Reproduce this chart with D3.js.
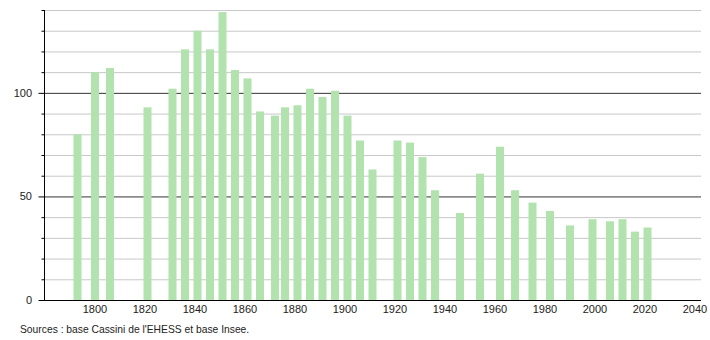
<!DOCTYPE html>
<html>
<head>
<meta charset="utf-8">
<script src="https://cdn.jsdelivr.net/npm/d3@7"></script>
<style>
  body { margin: 0; background: #fff; }
  svg { display: block; font-family: "Liberation Sans", Arial, sans-serif; }
</style>
</head>
<body>
<svg id="chart" width="710" height="340"></svg>
<script>
const years = [1793, 1800, 1806, 1821, 1831, 1836, 1841, 1846, 1851, 1856, 1861, 1866, 1872, 1876, 1881, 1886, 1891, 1896, 1901, 1906, 1911, 1921, 1926, 1931, 1936, 1946, 1954, 1962, 1968, 1975, 1982, 1990, 1999, 2006, 2011, 2016, 2021];
const population = [80, 110, 112, 93, 102, 121, 130, 121, 139, 111, 107, 91, 89, 93, 94, 102, 98, 101, 89, 77, 63, 77, 76, 69, 53, 42, 61, 74, 53, 47, 43, 36, 39, 38, 39, 33, 35];
const xTickLabels = [1800, 1820, 1840, 1860, 1880, 1900, 1920, 1940, 1960, 1980, 2000, 2020, 2040];
const yTickLabels = [0, 50, 100];
const sourceText = "Sources : base Cassini de l'EHESS et base Insee.";

const svg = d3.select("#chart");
const mLeft = 44, mRight = 701, mTop = 10, mBottom = 300;

const x = d3.scaleLinear().domain([1779.6, 2042.4]).range([mLeft, mRight]);
const y = d3.scaleLinear().domain([0, 140]).range([mBottom, mTop]);

// gridlines
const minor = d3.range(10, 141, 10);
svg.append("g").selectAll("line").data(minor).join("line")
  .attr("x1", mLeft).attr("x2", mRight)
  .attr("y1", d => y(d) + 0.5).attr("y2", d => y(d) + 0.5)
  .attr("stroke", d => d % 50 === 0 ? "#333" : "#c8c8c8")
  .attr("stroke-width", 1);

// bars
const bw = 8;
svg.append("g").selectAll("rect").data(years).join("rect")
  .attr("x", (d) => x(d) - bw / 2)
  .attr("width", bw)
  .attr("y", (d, i) => y(population[i]))
  .attr("height", (d, i) => y(0) - y(population[i]))
  .attr("fill", "#b2e2ad");

// y axis
const yAxis = d3.axisLeft(y).tickValues(minor.concat([0])).tickSize(4).tickFormat("");
const gy = svg.append("g").attr("transform", `translate(${mLeft + 0.5},0)`).call(yAxis);
gy.select(".domain").remove();
gy.selectAll(".tick line").attr("stroke", "#000").attr("x2", d => d % 50 === 0 ? -6 : -3);
svg.append("line").attr("x1", mLeft + 0.5).attr("x2", mLeft + 0.5).attr("y1", mTop).attr("y2", mBottom)
  .attr("stroke", "#000").attr("stroke-width", 1);
svg.append("g").selectAll("text").data(yTickLabels).join("text")
  .attr("x", 32).attr("y", d => y(d) + 4)
  .attr("text-anchor", "end").attr("font-size", 11).attr("fill", "#222")
  .text(d => d);

// x axis
svg.append("line").attr("x1", mLeft).attr("x2", mRight).attr("y1", mBottom + 0.5).attr("y2", mBottom + 0.5)
  .attr("stroke", "#000").attr("stroke-width", 1);
svg.append("g").selectAll("text").data(xTickLabels).join("text")
  .attr("x", d => x(d)).attr("y", 313)
  .attr("text-anchor", "middle").attr("font-size", 11).attr("fill", "#222")
  .text(d => d);

svg.append("text").attr("x", 20).attr("y", 333).attr("font-size", 10.3).attr("fill", "#222")
  .text(sourceText);
</script>
</body>
</html>
